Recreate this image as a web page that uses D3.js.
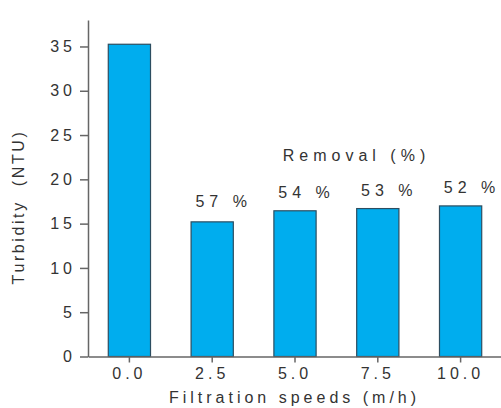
<!DOCTYPE html>
<html><head><meta charset="utf-8">
<script src="https://cdn.jsdelivr.net/npm/d3@7"></script>
<style>
html,body{margin:0;padding:0;background:#fff;}
text{font-family:"Liberation Sans",Arial,sans-serif;fill:#333;}
</style></head>
<body>
<svg id="c" width="501" height="408"></svg>
<script>
const categories = ["0.0","2.5","5.0","7.5","10.0"];
const turbidity = [35.25, 15.2, 16.45, 16.7, 17.0];
const removal = [null, "57 %", "54 %", "53 %", "52 %"];
const yTicks = [0,5,10,15,20,25,30,35];

const svg = d3.select("#c");
const LS = 4;
const FS = 16;
const x = d3.scaleBand().domain(categories).range([88, 502]).paddingInner(0.49).paddingOuter(0.245);
const y = d3.scaleLinear().domain([0, 38]).range([356.5, 19.9]);

// bars
svg.append("g").selectAll("rect").data(turbidity).join("rect")
  .attr("x", (d,i) => x(categories[i]))
  .attr("width", x.bandwidth())
  .attr("y", d => y(d))
  .attr("height", d => y(0) - y(d))
  .attr("fill", "#00adee")
  .attr("stroke", "#2c4d60")
  .attr("stroke-width", 1.2);

// y axis
const ya = svg.append("g").attr("transform", "translate(88,0)")
  .call(d3.axisLeft(y).tickValues(yTicks).tickSize(8).tickSizeOuter(0).tickPadding(8 - LS));
// x axis
const xa = svg.append("g").attr("transform", `translate(0,${y(0)})`)
  .call(d3.axisBottom(x).tickSize(6).tickSizeOuter(0).tickPadding(5));
[ya, xa].forEach(a => {
  a.select(".domain").attr("stroke", "#666").attr("stroke-width", 1.5);
  a.selectAll(".tick line").attr("stroke", "#666").attr("stroke-width", 1.5);
  a.selectAll(".tick text").attr("font-size", FS).attr("fill", "#333")
   .style("letter-spacing", LS + "px").attr("font-family", "Liberation Sans, Arial, sans-serif");
});

// removal labels
svg.append("g").selectAll("text").data(removal.map((r,i)=>({r,i})).filter(d=>d.r)).join("text")
  .attr("x", d => x(categories[d.i]) + x.bandwidth()/2 + 9 + 2.5)
  .attr("y", d => y(turbidity[d.i]) - (d.i === 1 ? 15 : 13))
  .attr("text-anchor", "middle")
  .attr("font-size", FS)
  .style("letter-spacing", "5px")
  .text(d => d.r);

// heading
svg.append("text").attr("x", 354 + 2.5).attr("y", 161)
  .attr("text-anchor", "middle").attr("font-size", 16)
  .style("letter-spacing", "5px").text("Removal (%)");

// axis titles
svg.append("text").attr("x", 292.5 + LS/2).attr("y", 403)
  .attr("text-anchor", "middle").attr("font-size", FS)
  .style("letter-spacing", LS + "px").text("Filtration speeds (m/h)");

svg.append("text").attr("transform", "translate(23.5,207) rotate(-90)")
  .attr("text-anchor", "middle").attr("font-size", FS)
  .style("letter-spacing", "2.6px").style("white-space", "pre")
  .text("Turbidity  (NTU)");
</script>
</body></html>
